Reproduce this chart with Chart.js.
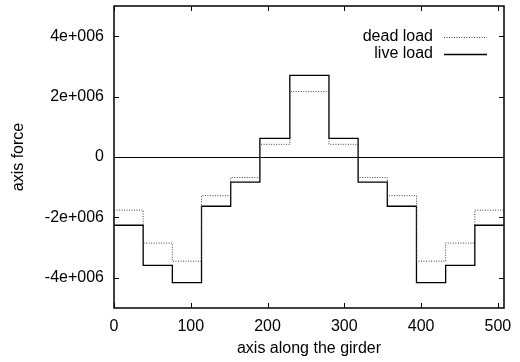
<!DOCTYPE html>
<html>
<head>
<meta charset="utf-8">
<script src="https://cdn.jsdelivr.net/npm/chart.js@4.4.0/dist/chart.umd.min.js"></script>
<style>
  html, body { margin: 0; padding: 0; background: #fff; }
  #wrap { width: 520px; height: 362px; }
</style>
</head>
<body>
<div id="wrap"><canvas id="chart" width="520" height="362"></canvas></div>
<script>
// ==============================
// Data
// ==============================
const stepStarts = [0, 38, 76, 114, 152, 190, 229, 280, 318, 356, 394, 432, 470, 508];
const deadLoad = [-1.76e6, -2.85e6, -3.45e6, -1.28e6, -0.68e6, 0.42e6, 2.17e6, 0.42e6, -0.68e6, -1.28e6, -3.45e6, -2.85e6, -1.76e6, -1.76e6];
const liveLoad = [-2.26e6, -3.59e6, -4.16e6, -1.63e6, -0.83e6, 0.62e6, 2.70e6, 0.62e6, -0.83e6, -1.63e6, -4.16e6, -3.59e6, -2.26e6, -2.26e6];
const xTicks = [0, 100, 200, 300, 400, 500];
const yTicks = [-4e6, -2e6, 0, 2e6, 4e6];
const yTickLabels = ["-4e+006", "-2e+006", "0", "2e+006", "4e+006"];

const FONT = "'Liberation Sans', Arial, Helvetica, sans-serif";
const TICK_LEN = 5;

// ==============================
// Gnuplot style frame, inner ticks, zero axis, legend
// ==============================
const gnuplotFrame = {
  id: "gnuplotFrame",
  beforeDatasetsDraw(chart) {
    const { ctx, chartArea: a, scales: { y } } = chart;
    ctx.save();
    ctx.strokeStyle = "#000";
    ctx.lineWidth = 1.2;
    const y0 = Math.round(y.getPixelForValue(0)) + 0.5;
    ctx.beginPath();
    ctx.moveTo(a.left, y0);
    ctx.lineTo(a.right, y0);
    ctx.stroke();
    ctx.restore();
  },
  afterDatasetsDraw(chart) {
    const { ctx, chartArea: a, scales: { x, y } } = chart;
    ctx.save();
    ctx.strokeStyle = "#000";
    ctx.lineWidth = 1.5;
    ctx.strokeRect(a.left, a.top, a.right - a.left, a.bottom - a.top);

    ctx.lineWidth = 1;
    ctx.beginPath();
    xTicks.forEach(v => {
      const px = Math.round(x.getPixelForValue(v)) + 0.5;
      ctx.moveTo(px, a.bottom); ctx.lineTo(px, a.bottom - TICK_LEN);
      ctx.moveTo(px, a.top); ctx.lineTo(px, a.top + TICK_LEN);
    });
    yTicks.forEach(v => {
      const py = Math.round(y.getPixelForValue(v)) + 0.5;
      ctx.moveTo(a.left, py); ctx.lineTo(a.left + TICK_LEN, py);
      ctx.moveTo(a.right, py); ctx.lineTo(a.right - TICK_LEN, py);
    });
    ctx.stroke();

    // legend: text right-aligned, line sample on the right
    ctx.font = "16px " + FONT;
    ctx.textAlign = "right";
    ctx.textBaseline = "middle";
    chart.data.datasets.forEach((ds, i) => {
      const ly = 37 + i * 16.5;
      ctx.fillStyle = "#000";
      ctx.fillText(ds.label, 433, ly);
      ctx.strokeStyle = ds.borderColor;
      ctx.lineWidth = ds.borderWidth;
      ctx.setLineDash(ds.borderDash || []);
      ctx.beginPath();
      ctx.moveTo(444, Math.round(ly) + 0.5);
      ctx.lineTo(487, Math.round(ly) + 0.5);
      ctx.stroke();
    });
    ctx.restore();
  }
};

const toPoints = vals => stepStarts.map((s, i) => ({ x: s, y: vals[i] }));

new Chart(document.getElementById("chart"), {
  type: "line",
  data: {
    datasets: [
      { label: "dead load", data: toPoints(deadLoad), stepped: "before", borderColor: "#444", borderWidth: 1, borderDash: [1, 1.5], pointRadius: 0, fill: false },
      { label: "live load", data: toPoints(liveLoad), stepped: "before", borderColor: "#000", borderWidth: 1.3, pointRadius: 0, fill: false }
    ]
  },
  options: {
    responsive: false,
    animation: false,
    layout: { padding: { top: 6, right: 16, left: 0, bottom: 0 } },
    plugins: { legend: { display: false }, tooltip: { enabled: false } },
    scales: {
      x: {
        type: "linear", min: 0, max: 508,
        afterBuildTicks: s => { s.ticks = xTicks.map(v => ({ value: v })); },
        afterFit: s => { s.height = 54; s.paddingLeft = 0; s.paddingRight = 0; },
        grid: { display: false, drawTicks: false },
        border: { display: false },
        ticks: { color: "#000", padding: 9, font: { family: FONT, size: 16 }, maxRotation: 0 },
        title: { display: true, text: "axis along the girder", color: "#000", font: { family: FONT, size: 16 }, padding: { top: 0, bottom: 4 } }
      },
      y: {
        type: "linear", min: -5e6, max: 5e6,
        afterBuildTicks: s => { s.ticks = yTicks.map(v => ({ value: v })); },
        afterFit: s => { s.width = 114; s.paddingTop = 0; s.paddingBottom = 0; },
        grid: { display: false, drawTicks: false },
        border: { display: false },
        ticks: { color: "#000", padding: 10, font: { family: FONT, size: 16 }, callback: (v, i) => yTickLabels[i] },
        title: { display: true, text: "axis force", color: "#000", font: { family: FONT, size: 16 }, padding: { top: 9, bottom: 0 } }
      }
    }
  },
  plugins: [gnuplotFrame]
});
</script>
</body>
</html>
